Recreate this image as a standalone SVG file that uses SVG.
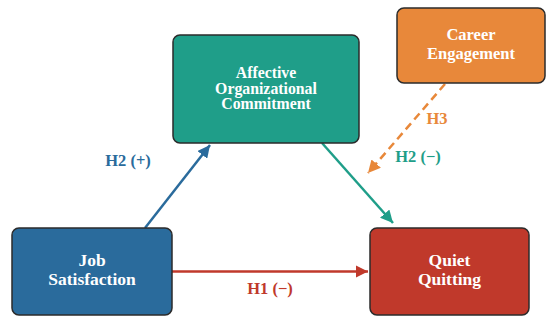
<svg xmlns="http://www.w3.org/2000/svg" width="550" height="329" viewBox="0 0 550 329">
<defs>
<style>
.box{stroke:#2b2b2b;stroke-width:1.5}
.t{font-family:"Liberation Serif","Times New Roman",serif;font-weight:bold;font-size:17.5px;fill:#fff;text-anchor:middle}
.l{font-family:"Liberation Serif","Times New Roman",serif;font-weight:bold;font-size:16.5px;text-anchor:middle}
.c{fill:none;stroke-width:2.5}
</style>
<marker id="mb" viewBox="0 0 10 10" refX="10" refY="5" markerWidth="5" markerHeight="5" orient="auto" markerUnits="strokeWidth"><path d="M0,0 L10,5 L0,10 z" fill="#2a6b9c"/></marker>
<marker id="mt" viewBox="0 0 10 10" refX="10" refY="5" markerWidth="5" markerHeight="5" orient="auto" markerUnits="strokeWidth"><path d="M0,0 L10,5 L0,10 z" fill="#1f9e89"/></marker>
<marker id="mr" viewBox="0 0 10 10" refX="10" refY="5" markerWidth="5" markerHeight="5" orient="auto" markerUnits="strokeWidth"><path d="M0,0 L10,5 L0,10 z" fill="#c0392b"/></marker>
<marker id="mo" viewBox="0 0 10 10" refX="10" refY="5" markerWidth="5" markerHeight="5" orient="auto" markerUnits="strokeWidth"><path d="M0,0 L10,5 L0,10 z" fill="#e8883a"/></marker>
</defs>
<rect width="550" height="329" fill="#fff"/>
<g id="connectors">
<line class="c" x1="145" y1="228" x2="210" y2="145" stroke="#2a6b9c" marker-end="url(#mb)"/>
<line class="c" x1="322" y1="143" x2="393" y2="223" stroke="#1f9e89" marker-end="url(#mt)"/>
<line class="c" x1="172" y1="271.5" x2="368" y2="271.5" stroke="#c0392b" marker-end="url(#mr)"/>
<line class="c" x1="445" y1="84" x2="368" y2="173" stroke="#e8883a" stroke-dasharray="8,5" marker-end="url(#mo)"/>
<text class="l" x="128" y="166" fill="#2a6b9c">H2 (+)</text>
<text class="l" x="418" y="162" fill="#1f9e89">H2 (−)</text>
<text class="l" x="437" y="124" fill="#e8883a">H3</text>
<text class="l" x="270" y="294" fill="#c0392b">H1 (−)</text>
</g>
<g id="affective">
<rect class="box" x="173" y="35" width="186" height="108" rx="7" fill="#1f9e89"/>
<text class="t" x="266" y="77.5" style="font-size:15.8px">Affective</text>
<text class="t" x="266" y="93.5" style="font-size:15.8px">Organizational</text>
<text class="t" x="266" y="109" style="font-size:15.8px">Commitment</text>
</g>
<g id="career">
<rect class="box" x="397" y="8" width="148" height="75" rx="7" fill="#e8883a"/>
<text class="t" x="471" y="40" style="font-size:16.5px">Career</text>
<text class="t" x="471" y="58.5" style="font-size:16.5px">Engagement</text>
</g>
<g id="job">
<rect class="box" x="12" y="228" width="160" height="87" rx="7" fill="#2a6b9c"/>
<text class="t" x="92" y="266">Job</text>
<text class="t" x="92" y="285">Satisfaction</text>
</g>
<g id="quiet">
<rect class="box" x="370" y="228" width="159" height="87" rx="7" fill="#c0392b"/>
<text class="t" x="449.5" y="266">Quiet</text>
<text class="t" x="449.5" y="285">Quitting</text>
</g>
</svg>
